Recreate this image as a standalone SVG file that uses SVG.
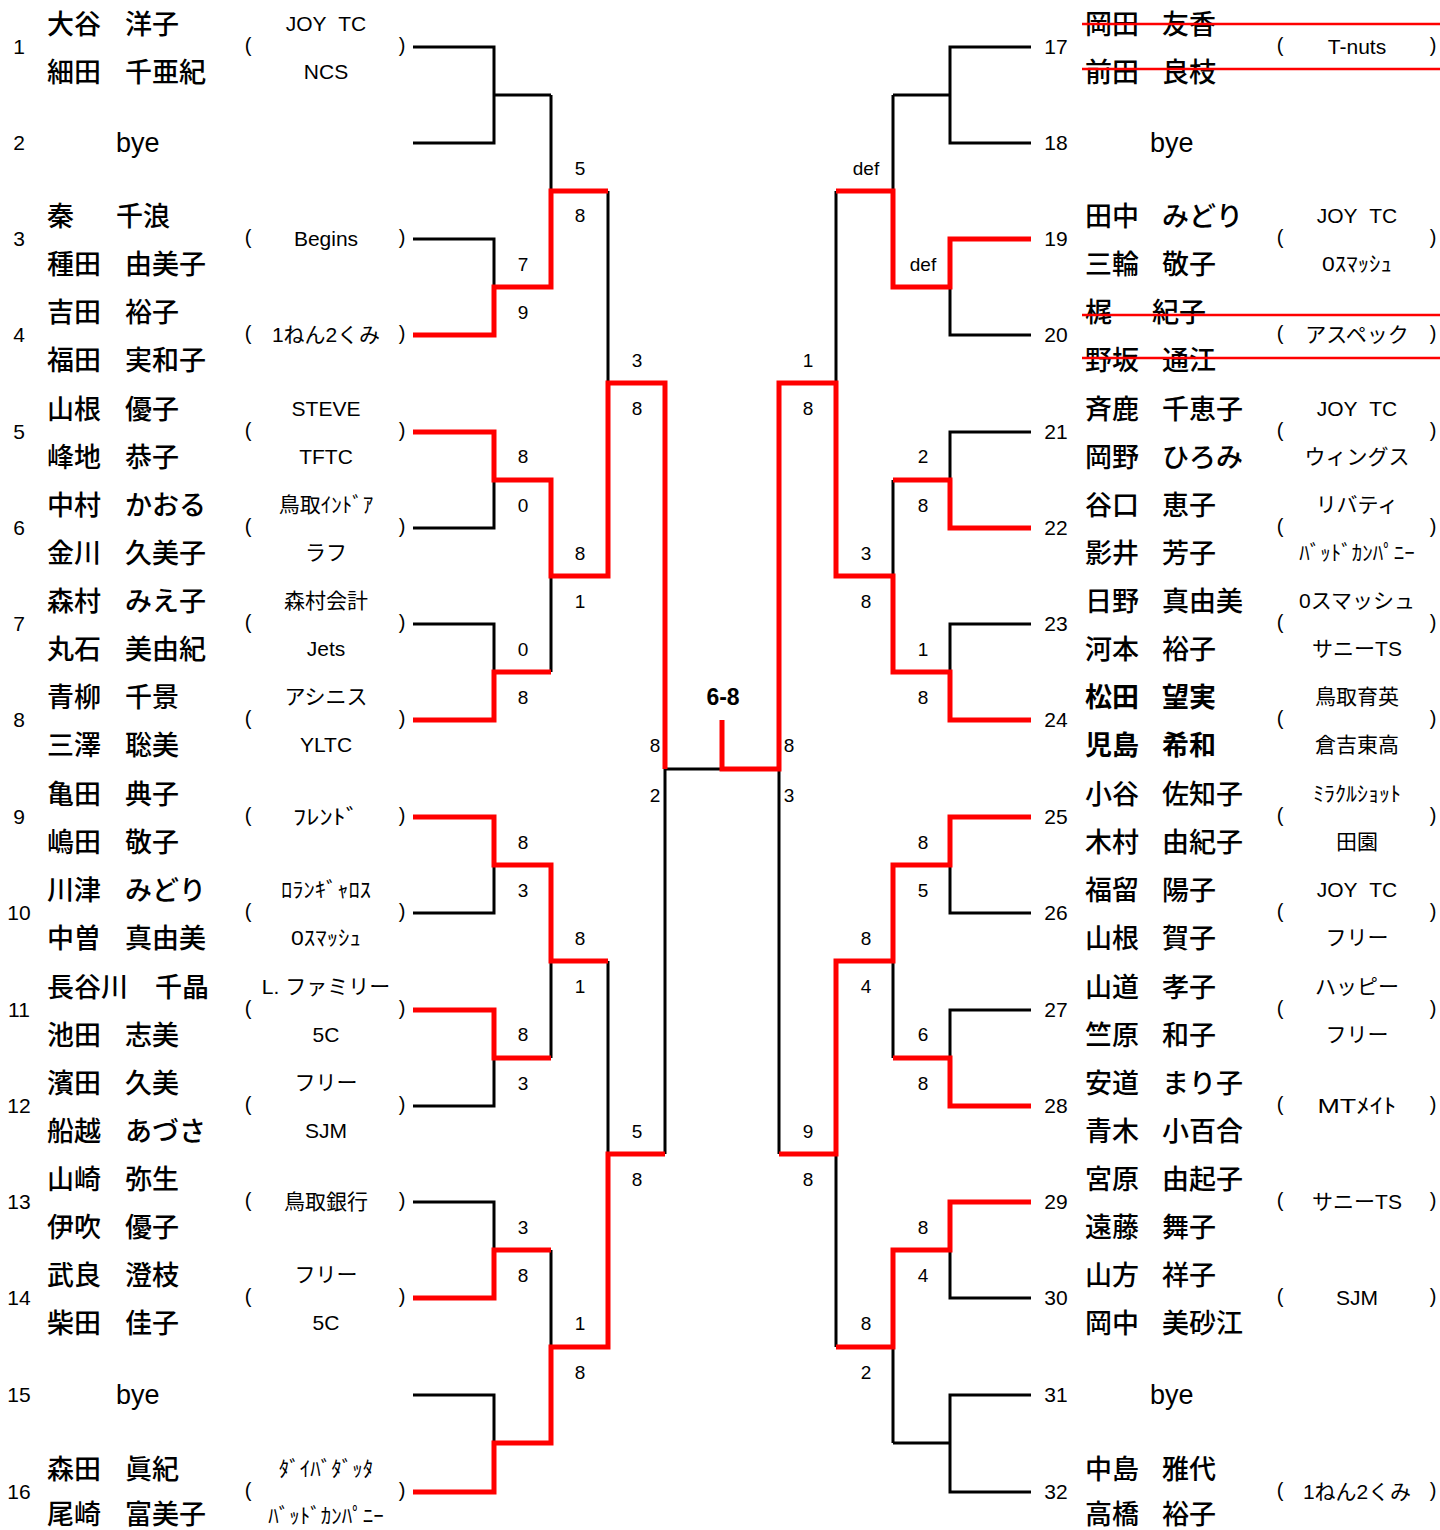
<svg xmlns="http://www.w3.org/2000/svg" width="1440" height="1530" viewBox="0 0 1440 1530">
<style>
.nm{font-family:"Noto Sans CJK JP",sans-serif;font-size:27px;font-weight:500;fill:#000}
.nb{font-weight:bold}
.no{font-family:"Liberation Sans",Arial,sans-serif;font-size:21px;text-anchor:middle;fill:#000}
.cl{font-family:"Liberation Sans","Noto Sans CJK JP",sans-serif;font-size:21px;text-anchor:middle;fill:#000}
.pr{font-family:"Liberation Sans",sans-serif;font-size:20px;text-anchor:middle;fill:#000}
.by{font-family:"Liberation Sans",sans-serif;font-size:27px;fill:#000}
.sc{font-family:"Liberation Sans",sans-serif;font-size:19px;text-anchor:middle;fill:#000}
.fin{font-family:"Liberation Sans",sans-serif;font-size:23px;font-weight:bold;text-anchor:middle;fill:#000}
.bk{stroke:#000;stroke-width:3;fill:none}
.rd{stroke:#f00;stroke-width:5;fill:none;stroke-linejoin:miter}
.st{stroke:#f00;stroke-width:2.5}
</style>
<rect width="1440" height="1530" fill="#fff"/>

<g id="connectors">
<path class="bk" d="M413 47H494V143H413M494 95H551M413 239H494V335H413M494 287H551M413 432H494V528H413M494 480H551M413 624H494V720H413M494 672H551M413 817H494V913H413M494 865H551M413 1010H494V1106H413M494 1058H551M413 1202H494V1298H413M494 1250H551M413 1395H494V1492H413M494 1443H551M551 95V287M551 191H608M551 480V672M551 576H608M551 865V1058M551 961H608M551 1250V1443M551 1347H608M608 191V576M608 383H665M608 961V1347M608 1154H665M665 383V1154M665 769H779"/>
<path class="bk" d="M1031 47H950V143H1031M950 95H893M1031 239H950V335H1031M950 287H893M1031 432H950V528H1031M950 480H893M1031 624H950V720H1031M950 672H893M1031 817H950V913H1031M950 865H893M1031 1010H950V1106H1031M950 1058H893M1031 1202H950V1298H1031M950 1250H893M1031 1395H950V1492H1031M950 1443H893M893 95V287M893 191H836M893 480V672M893 576H836M893 865V1058M893 961H836M893 1250V1443M893 1347H836M836 191V576M836 383H779M836 961V1347M836 1154H779M779 383V1154"/>
<polyline class="rd" points="413,335 494,335 494,287 551,287 551,191 608,191"/>
<polyline class="rd" points="413,432 494,432 494,480 551,480 551,576 608,576 608,383 665,383 665,769"/>
<polyline class="rd" points="413,720 494,720 494,672 551,672"/>
<polyline class="rd" points="413,817 494,817 494,865 551,865 551,961 608,961"/>
<polyline class="rd" points="413,1010 494,1010 494,1058 551,1058"/>
<polyline class="rd" points="413,1298 494,1298 494,1250 551,1250"/>
<polyline class="rd" points="413,1492 494,1492 494,1443 551,1443 551,1347 608,1347 608,1154 665,1154"/>
<polyline class="rd" points="722,720 722,769 779,769 779,383 836,383 836,576 893,576 893,672 950,672 950,720 1031,720"/>
<polyline class="rd" points="1031,239 950,239 950,287 893,287 893,191 836,191"/>
<polyline class="rd" points="1031,528 950,528 950,480 893,480"/>
<polyline class="rd" points="1031,817 950,817 950,865 893,865 893,961 836,961 836,1154 779,1154"/>
<polyline class="rd" points="1031,1106 950,1106 950,1058 893,1058"/>
<polyline class="rd" points="1031,1202 950,1202 950,1250 893,1250 893,1347 836,1347"/>
</g>

<g id="scores">
<text class="sc" x="523" y="271">7</text><text class="sc" x="523" y="319">9</text>
<text class="sc" x="523" y="463">8</text><text class="sc" x="523" y="512">0</text>
<text class="sc" x="523" y="656">0</text><text class="sc" x="523" y="704">8</text>
<text class="sc" x="523" y="849">8</text><text class="sc" x="523" y="897">3</text>
<text class="sc" x="523" y="1041">8</text><text class="sc" x="523" y="1090">3</text>
<text class="sc" x="523" y="1234">3</text><text class="sc" x="523" y="1282">8</text>
<text class="sc" x="580" y="175">5</text><text class="sc" x="580" y="222">8</text>
<text class="sc" x="580" y="560">8</text><text class="sc" x="580" y="608">1</text>
<text class="sc" x="580" y="945">8</text><text class="sc" x="580" y="993">1</text>
<text class="sc" x="580" y="1330">1</text><text class="sc" x="580" y="1379">8</text>
<text class="sc" x="637" y="367">3</text><text class="sc" x="637" y="415">8</text>
<text class="sc" x="637" y="1138">5</text><text class="sc" x="637" y="1186">8</text>
<text class="sc" x="655" y="752">8</text><text class="sc" x="655" y="802">2</text>
<text class="sc" x="923" y="271">def</text>
<text class="sc" x="923" y="463">2</text><text class="sc" x="923" y="512">8</text>
<text class="sc" x="923" y="656">1</text><text class="sc" x="923" y="704">8</text>
<text class="sc" x="923" y="849">8</text><text class="sc" x="923" y="897">5</text>
<text class="sc" x="923" y="1041">6</text><text class="sc" x="923" y="1090">8</text>
<text class="sc" x="923" y="1234">8</text><text class="sc" x="923" y="1282">4</text>
<text class="sc" x="866" y="175">def</text>
<text class="sc" x="866" y="560">3</text><text class="sc" x="866" y="608">8</text>
<text class="sc" x="866" y="945">8</text><text class="sc" x="866" y="993">4</text>
<text class="sc" x="866" y="1330">8</text><text class="sc" x="866" y="1379">2</text>
<text class="sc" x="808" y="367">1</text><text class="sc" x="808" y="415">8</text>
<text class="sc" x="808" y="1138">9</text><text class="sc" x="808" y="1186">8</text>
<text class="sc" x="789" y="752">8</text><text class="sc" x="789" y="802">3</text>
<text class="fin" x="723" y="705">6-8</text>
</g>

<g id="e1"><text class="no" x="19" y="54">1</text><text class="nm" x="47" y="34">大谷</text><text class="nm" x="125" y="34">洋子</text><text class="nm" x="47" y="82">細田</text><text class="nm" x="125" y="82">千亜紀</text><text class="pr" x="248" y="52">(</text><text class="cl" x="326" y="31">JOY&#160;&#160;TC</text><text class="cl" x="326" y="79">NCS</text><text class="pr" x="402" y="52">)</text></g>
<g id="e2"><text class="no" x="19" y="150">2</text><text class="by" x="116" y="152">bye</text></g>
<g id="e3"><text class="no" x="19" y="246">3</text><text class="nm" x="47" y="226">秦</text><text class="nm" x="116" y="226">千浪</text><text class="nm" x="47" y="274">種田</text><text class="nm" x="125" y="274">由美子</text><text class="pr" x="248" y="244">(</text><text class="cl" x="326" y="246">Begins</text><text class="pr" x="402" y="244">)</text></g>
<g id="e4"><text class="no" x="19" y="342">4</text><text class="nm" x="47" y="322">吉田</text><text class="nm" x="125" y="322">裕子</text><text class="nm" x="47" y="370">福田</text><text class="nm" x="125" y="370">実和子</text><text class="pr" x="248" y="340">(</text><text class="cl" x="326" y="342">1ねん2くみ</text><text class="pr" x="402" y="340">)</text></g>
<g id="e5"><text class="no" x="19" y="439">5</text><text class="nm" x="47" y="419">山根</text><text class="nm" x="125" y="419">優子</text><text class="nm" x="47" y="467">峰地</text><text class="nm" x="125" y="467">恭子</text><text class="pr" x="248" y="437">(</text><text class="cl" x="326" y="416">STEVE</text><text class="cl" x="326" y="464">TFTC</text><text class="pr" x="402" y="437">)</text></g>
<g id="e6"><text class="no" x="19" y="535">6</text><text class="nm" x="47" y="515">中村</text><text class="nm" x="125" y="515">かおる</text><text class="nm" x="47" y="563">金川</text><text class="nm" x="125" y="563">久美子</text><text class="pr" x="248" y="533">(</text><text class="cl" x="326" y="512">鳥取ｲﾝﾄﾞｱ</text><text class="cl" x="326" y="560">ラフ</text><text class="pr" x="402" y="533">)</text></g>
<g id="e7"><text class="no" x="19" y="631">7</text><text class="nm" x="47" y="611">森村</text><text class="nm" x="125" y="611">みえ子</text><text class="nm" x="47" y="659">丸石</text><text class="nm" x="125" y="659">美由紀</text><text class="pr" x="248" y="629">(</text><text class="cl" x="326" y="608">森村会計</text><text class="cl" x="326" y="656">Jets</text><text class="pr" x="402" y="629">)</text></g>
<g id="e8"><text class="no" x="19" y="727">8</text><text class="nm" x="47" y="707">青柳</text><text class="nm" x="125" y="707">千景</text><text class="nm" x="47" y="755">三澤</text><text class="nm" x="125" y="755">聡美</text><text class="pr" x="248" y="725">(</text><text class="cl" x="326" y="704">アシニス</text><text class="cl" x="326" y="752">YLTC</text><text class="pr" x="402" y="725">)</text></g>
<g id="e9"><text class="no" x="19" y="824">9</text><text class="nm" x="47" y="804">亀田</text><text class="nm" x="125" y="804">典子</text><text class="nm" x="47" y="852">嶋田</text><text class="nm" x="125" y="852">敬子</text><text class="pr" x="248" y="822">(</text><text class="cl" x="326" y="824" textLength="66" lengthAdjust="spacingAndGlyphs">ﾌﾚﾝﾄﾞ</text><text class="pr" x="402" y="822">)</text></g>
<g id="e10"><text class="no" x="19" y="920">10</text><text class="nm" x="47" y="900">川津</text><text class="nm" x="125" y="900">みどり</text><text class="nm" x="47" y="948">中曽</text><text class="nm" x="125" y="948">真由美</text><text class="pr" x="248" y="918">(</text><text class="cl" x="326" y="897" textLength="90" lengthAdjust="spacingAndGlyphs">ﾛﾗﾝｷﾞｬﾛｽ</text><text class="cl" x="326" y="945" textLength="70" lengthAdjust="spacingAndGlyphs">0ｽﾏｯｼｭ</text><text class="pr" x="402" y="918">)</text></g>
<g id="e11"><text class="no" x="19" y="1017">11</text><text class="nm" x="47" y="997">長谷川</text><text class="nm" x="155" y="997">千晶</text><text class="nm" x="47" y="1045">池田</text><text class="nm" x="125" y="1045">志美</text><text class="pr" x="248" y="1015">(</text><text class="cl" x="326" y="994">L. ファミリー</text><text class="cl" x="326" y="1042">5C</text><text class="pr" x="402" y="1015">)</text></g>
<g id="e12"><text class="no" x="19" y="1113">12</text><text class="nm" x="47" y="1093">濱田</text><text class="nm" x="125" y="1093">久美</text><text class="nm" x="47" y="1141">船越</text><text class="nm" x="125" y="1141">あづさ</text><text class="pr" x="248" y="1111">(</text><text class="cl" x="326" y="1090">フリー</text><text class="cl" x="326" y="1138">SJM</text><text class="pr" x="402" y="1111">)</text></g>
<g id="e13"><text class="no" x="19" y="1209">13</text><text class="nm" x="47" y="1189">山崎</text><text class="nm" x="125" y="1189">弥生</text><text class="nm" x="47" y="1237">伊吹</text><text class="nm" x="125" y="1237">優子</text><text class="pr" x="248" y="1207">(</text><text class="cl" x="326" y="1209">鳥取銀行</text><text class="pr" x="402" y="1207">)</text></g>
<g id="e14"><text class="no" x="19" y="1305">14</text><text class="nm" x="47" y="1285">武良</text><text class="nm" x="125" y="1285">澄枝</text><text class="nm" x="47" y="1333">柴田</text><text class="nm" x="125" y="1333">佳子</text><text class="pr" x="248" y="1303">(</text><text class="cl" x="326" y="1282">フリー</text><text class="cl" x="326" y="1330">5C</text><text class="pr" x="402" y="1303">)</text></g>
<g id="e15"><text class="no" x="19" y="1402">15</text><text class="by" x="116" y="1404">bye</text></g>
<g id="e16"><text class="no" x="19" y="1499">16</text><text class="nm" x="47" y="1479">森田</text><text class="nm" x="125" y="1479">眞紀</text><text class="nm" x="47" y="1524">尾崎</text><text class="nm" x="125" y="1524">富美子</text><text class="pr" x="248" y="1497">(</text><text class="cl" x="326" y="1476">ﾀﾞｲﾊﾞﾀﾞｯﾀ</text><text class="cl" x="326" y="1523">ﾊﾞｯﾄﾞｶﾝﾊﾟﾆｰ</text><text class="pr" x="402" y="1497">)</text></g>

<g id="e17"><text class="no" x="1056" y="54">17</text><text class="nm" x="1085" y="34">岡田</text><text class="nm" x="1162" y="34">友香</text><text class="nm" x="1085" y="82">前田</text><text class="nm" x="1162" y="82">良枝</text><text class="pr" x="1280" y="52">(</text><text class="cl" x="1357" y="54">T-nuts</text><text class="pr" x="1433" y="52">)</text></g>
<g id="e18"><text class="no" x="1056" y="150">18</text><text class="by" x="1150" y="152">bye</text></g>
<g id="e19"><text class="no" x="1056" y="246">19</text><text class="nm" x="1085" y="226">田中</text><text class="nm" x="1162" y="226">みどり</text><text class="nm" x="1085" y="274">三輪</text><text class="nm" x="1162" y="274">敬子</text><text class="pr" x="1280" y="244">(</text><text class="cl" x="1357" y="223">JOY&#160;&#160;TC</text><text class="cl" x="1357" y="271" textLength="70" lengthAdjust="spacingAndGlyphs">0ｽﾏｯｼｭ</text><text class="pr" x="1433" y="244">)</text></g>
<g id="e20"><text class="no" x="1056" y="342">20</text><text class="nm" x="1085" y="322">梶</text><text class="nm" x="1152" y="322">紀子</text><text class="nm" x="1085" y="370">野坂</text><text class="nm" x="1162" y="370">通江</text><text class="pr" x="1280" y="340">(</text><text class="cl" x="1357" y="342">アスペック</text><text class="pr" x="1433" y="340">)</text></g>
<g id="e21"><text class="no" x="1056" y="439">21</text><text class="nm" x="1085" y="419">斉鹿</text><text class="nm" x="1162" y="419">千恵子</text><text class="nm" x="1085" y="467">岡野</text><text class="nm" x="1162" y="467">ひろみ</text><text class="pr" x="1280" y="437">(</text><text class="cl" x="1357" y="416">JOY&#160;&#160;TC</text><text class="cl" x="1357" y="464">ウィングス</text><text class="pr" x="1433" y="437">)</text></g>
<g id="e22"><text class="no" x="1056" y="535">22</text><text class="nm" x="1085" y="515">谷口</text><text class="nm" x="1162" y="515">恵子</text><text class="nm" x="1085" y="563">影井</text><text class="nm" x="1162" y="563">芳子</text><text class="pr" x="1280" y="533">(</text><text class="cl" x="1357" y="512">リバティ</text><text class="cl" x="1357" y="560">ﾊﾞｯﾄﾞｶﾝﾊﾟﾆｰ</text><text class="pr" x="1433" y="533">)</text></g>
<g id="e23"><text class="no" x="1056" y="631">23</text><text class="nm" x="1085" y="611">日野</text><text class="nm" x="1162" y="611">真由美</text><text class="nm" x="1085" y="659">河本</text><text class="nm" x="1162" y="659">裕子</text><text class="pr" x="1280" y="629">(</text><text class="cl" x="1357" y="608">0スマッシュ</text><text class="cl" x="1357" y="656">サニーTS</text><text class="pr" x="1433" y="629">)</text></g>
<g id="e24"><text class="no" x="1056" y="727">24</text><text class="nm nb" x="1085" y="707">松田</text><text class="nm nb" x="1162" y="707">望実</text><text class="nm nb" x="1085" y="755">児島</text><text class="nm nb" x="1162" y="755">希和</text><text class="pr" x="1280" y="725">(</text><text class="cl" x="1357" y="704">鳥取育英</text><text class="cl" x="1357" y="752">倉吉東高</text><text class="pr" x="1433" y="725">)</text></g>
<g id="e25"><text class="no" x="1056" y="824">25</text><text class="nm" x="1085" y="804">小谷</text><text class="nm" x="1162" y="804">佐知子</text><text class="nm" x="1085" y="852">木村</text><text class="nm" x="1162" y="852">由紀子</text><text class="pr" x="1280" y="822">(</text><text class="cl" x="1357" y="801" textLength="88" lengthAdjust="spacingAndGlyphs">ﾐﾗｸﾙｼｮｯﾄ</text><text class="cl" x="1357" y="849">田園</text><text class="pr" x="1433" y="822">)</text></g>
<g id="e26"><text class="no" x="1056" y="920">26</text><text class="nm" x="1085" y="900">福留</text><text class="nm" x="1162" y="900">陽子</text><text class="nm" x="1085" y="948">山根</text><text class="nm" x="1162" y="948">賀子</text><text class="pr" x="1280" y="918">(</text><text class="cl" x="1357" y="897">JOY&#160;&#160;TC</text><text class="cl" x="1357" y="945">フリー</text><text class="pr" x="1433" y="918">)</text></g>
<g id="e27"><text class="no" x="1056" y="1017">27</text><text class="nm" x="1085" y="997">山道</text><text class="nm" x="1162" y="997">孝子</text><text class="nm" x="1085" y="1045">竺原</text><text class="nm" x="1162" y="1045">和子</text><text class="pr" x="1280" y="1015">(</text><text class="cl" x="1357" y="994">ハッピー</text><text class="cl" x="1357" y="1042">フリー</text><text class="pr" x="1433" y="1015">)</text></g>
<g id="e28"><text class="no" x="1056" y="1113">28</text><text class="nm" x="1085" y="1093">安道</text><text class="nm" x="1162" y="1093">まり子</text><text class="nm" x="1085" y="1141">青木</text><text class="nm" x="1162" y="1141">小百合</text><text class="pr" x="1280" y="1111">(</text><text class="cl" x="1357" y="1113" textLength="79" lengthAdjust="spacingAndGlyphs">MTﾒｲﾄ</text><text class="pr" x="1433" y="1111">)</text></g>
<g id="e29"><text class="no" x="1056" y="1209">29</text><text class="nm" x="1085" y="1189">宮原</text><text class="nm" x="1162" y="1189">由起子</text><text class="nm" x="1085" y="1237">遠藤</text><text class="nm" x="1162" y="1237">舞子</text><text class="pr" x="1280" y="1207">(</text><text class="cl" x="1357" y="1209">サニーTS</text><text class="pr" x="1433" y="1207">)</text></g>
<g id="e30"><text class="no" x="1056" y="1305">30</text><text class="nm" x="1085" y="1285">山方</text><text class="nm" x="1162" y="1285">祥子</text><text class="nm" x="1085" y="1333">岡中</text><text class="nm" x="1162" y="1333">美砂江</text><text class="pr" x="1280" y="1303">(</text><text class="cl" x="1357" y="1305">SJM</text><text class="pr" x="1433" y="1303">)</text></g>
<g id="e31"><text class="no" x="1056" y="1402">31</text><text class="by" x="1150" y="1404">bye</text></g>
<g id="e32"><text class="no" x="1056" y="1499">32</text><text class="nm" x="1085" y="1479">中島</text><text class="nm" x="1162" y="1479">雅代</text><text class="nm" x="1085" y="1524">高橋</text><text class="nm" x="1162" y="1524">裕子</text><text class="pr" x="1280" y="1497">(</text><text class="cl" x="1357" y="1499">1ねん2くみ</text><text class="pr" x="1433" y="1497">)</text></g>

<g id="strikes">
<line class="st" x1="1082" y1="24" x2="1440" y2="24"/>
<line class="st" x1="1082" y1="69" x2="1440" y2="69"/>
<line class="st" x1="1082" y1="315" x2="1440" y2="315"/>
<line class="st" x1="1082" y1="358" x2="1440" y2="358"/>
</g>
</svg>
